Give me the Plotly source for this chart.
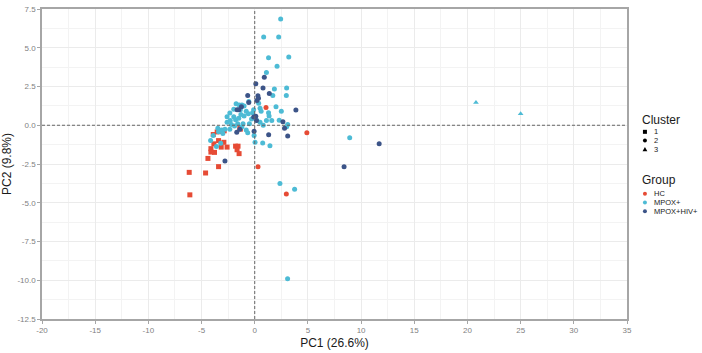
import plotly.graph_objects as go

# ---------------- data ----------------
hc_x = [1.06, -1.4, 4.9, -2.87, -3.9, -3.4, -2.9, -3.84, -3.15, -2.6, -4.12, -4.12, -3.78,
        -1.8, -1.57, -1.66, -1.47, -4.4, -3.4, 0.31, -6.16, -4.62, -6.1, 2.97, -3.2, -1.35, -3.53]
hc_y = [1.15, -0.15, -0.49, -0.36, -0.6, -0.99, -1.1, -1.2, -1.41, -1.41, -1.51, -1.73, -1.75,
        -1.35, -1.35, -1.58, -1.83, -2.14, -2.67, -2.67, -3.04, -3.08, -4.49, -4.43, -0.4, -0.25, -0.43]
hc_cl = [2, 1, 2, 1, 1, 1, 1, 1, 1, 1, 1, 1, 1,
         1, 1, 1, 1, 1, 1, 2, 1, 1, 1, 2, 1, 1, 1]

mp_x = [2.44, 0.84, 2.25, 1.3, 3.2, 2.1, 1.1, 1.85, 3.0, 1.7, 2.97, -0.56, 0.37, 1.3, 1.35, 1.6,
        1.1, 2.3, 3.1, 0.5, 0.6, -1.75, -1.45, -1.2, -1.0, -1.97, -1.35, -2.34, -1.97, -1.8,
        -1.5, -1.0, -0.8, -0.2, -2.6, -2.3, -2.2, -1.9, -1.6, -1.1, -0.5, -0.3, -3.1, -2.8,
        -0.8, 0.5, 0.8, -2.34, -3.47, -3.4, -3.0, -3.9, -4.15, -3.2, -3.6, -0.66, -0.06, 0.03,
        0.75, 1.43, 3.0, 2.37, 3.75, 3.09, 8.93, 2.5, 2.0, -1.3, -2.6, -1.2, 0.2, -0.6, -0.1,
        20.8, 25.0]
mp_y = [6.85, 5.7, 5.7, 4.35, 4.4, 3.8, 3.4, 2.34, 2.4, 1.92, 1.92, 1.53, 1.42, 0.8, 0.6, 0.3,
        0.3, 0.33, 0.05, 1.1, 0.9, 1.38, 1.3, 1.3, 1.25, 1.04, 1.0, 0.79, 0.55, 0.35,
        0.45, 0.6, 0.9, 0.8, 0.2, 0.3, 0.05, -0.05, 0.1, 0.1, 0.1, 0.4, -0.3, -0.25,
        -0.3, 0.2, 0.0, -0.26, -0.19, -0.42, -0.53, -0.66, -0.99, -1.16, -1.37, -0.49, -0.66, -1.1,
        -1.14, -1.32, -0.1, -3.76, -4.13, -9.9, -0.8, 0.9, 1.2, 0.7, 0.55, -0.1, 0.3, 0.75, 1.0,
        1.46, 0.75]
mp_cl = [2] * 73 + [3, 3]

hiv_x = [0.9, 0.1, 0.78, 1.37, -0.66, 0.3, 0.35, 0.2, -1.25, -1.5, -0.56, -1.66, 0.1, -0.1,
         3.87, 2.65, 2.8, 1.31, 3.1, -0.06, -1.69, -2.8, 11.7, 8.4, -1.4, 0.16]
hiv_y = [3.1, 2.67, 2.4, 2.05, 1.92, 1.9, 1.75, 1.6, 1.2, 1.0, 1.46, 1.0, 0.58, 0.54,
         0.98, 0.22, -0.2, -0.61, -0.7, -0.38, -0.45, -2.31, -1.2, -2.67, -0.25, 0.3]
hiv_cl = [2] * 26

groups = ["HC", "MPOX+", "MPOX+HIV+"]
clusters = ["1", "2", "3"]
x_ticks = [-20, -15, -10, -5, 0, 5, 10, 15, 20, 25, 30, 35]
x_ticktext = ["-20", "-15", "-10", "-5", "0", "5", "10", "15", "20", "25", "30", "35"]
y_ticks = [-12.5, -10.0, -7.5, -5.0, -2.5, 0.0, 2.5, 5.0, 7.5]
y_ticktext = ["-12.5", "-10.0", "-7.5", "-5.0", "-2.5", "0.0", "2.5", "5.0", "7.5"]

colors = {"HC": "#E64B35", "MPOX+": "#4DBBD5", "MPOX+HIV+": "#3C5488"}
symbols = {1: "square", 2: "circle", 3: "triangle-up"}

FONT = "Liberation Sans, Arial, sans-serif"

fig = go.Figure()

data = {"HC": (hc_x, hc_y, hc_cl), "MPOX+": (mp_x, mp_y, mp_cl), "MPOX+HIV+": (hiv_x, hiv_y, hiv_cl)}
for g in groups:
    xs, ys, cs = data[g]
    for c in (1, 2, 3):
        px = [x for x, k in zip(xs, cs) if k == c]
        py = [y for y, k in zip(ys, cs) if k == c]
        if not px:
            continue
        fig.add_trace(go.Scatter(
            x=px, y=py, mode="markers", showlegend=False, name=f"{g} / cluster {c}",
            marker=dict(color=colors[g], symbol=symbols[c], size=5, line=dict(width=0))))

# reference lines at 0
fig.add_shape(type="line", xref="x", yref="paper", x0=0, x1=0, y0=0, y1=1,
              line=dict(color="#666666", width=1, dash="3px,2px"))
fig.add_shape(type="line", xref="paper", yref="y", x0=0, x1=1, y0=0, y1=0,
              line=dict(color="#666666", width=1, dash="3px,2px"))

# ---------------- legend (ggplot-style, compact) ----------------
L, T, W, H = 40, 5, 587, 318          # plot area in px


def px_x(p):
    return (p - L) / W


def px_y(p):
    return (T + H - p) / H


key_x = px_x(645)
text_x = px_x(653)
title_x = px_x(640)


def legend_title(text, py):
    fig.add_annotation(x=title_x, y=px_y(py), xref="paper", yref="paper", text=text,
                       showarrow=False, xanchor="left", yanchor="middle",
                       font=dict(family=FONT, size=12, color="#1a1a1a"))


def legend_label(text, py):
    fig.add_annotation(x=text_x, y=px_y(py), xref="paper", yref="paper", text=text,
                       showarrow=False, xanchor="left", yanchor="middle",
                       borderpad=0,
                       font=dict(family=FONT, size=7.5, color="#1a1a1a"))


def legend_key(kind, color, py):
    common = dict(xref="paper", yref="paper", xsizemode="pixel", ysizemode="pixel",
                  xanchor=key_x, yanchor=px_y(py), fillcolor=color, line=dict(width=0))
    if kind == "square":
        fig.add_shape(type="rect", x0=-2, x1=2, y0=-2, y1=2, **common)
    elif kind == "circle":
        fig.add_shape(type="circle", x0=-2, x1=2, y0=-2, y1=2, **common)
    else:
        fig.add_shape(type="path", path="M-2.4,-1.8 L2.4,-1.8 L0,2.4 Z", **common)


legend_title("Cluster", 119)
for i, c in enumerate(clusters):
    yy = 131 + 9 * i
    legend_key(symbols[i + 1], "black", yy)
    legend_label(c, yy)

legend_title("Group", 180)
for i, g in enumerate(groups):
    yy = 194.5 + 9 * i
    legend_key("circle", colors[g], yy)
    legend_label(g, yy)

axis_common = dict(
    showline=True, mirror=True, linecolor="#a6a6a6", linewidth=1.5,
    ticks="outside", ticklen=3, tickcolor="#a6a6a6", tickwidth=1,
    showgrid=True, gridcolor="#ebebeb", gridwidth=1, zeroline=False,
    tickfont=dict(family=FONT, size=8, color="#7f7f7f"),
)

fig.update_layout(
    width=702, height=353,
    margin=dict(l=40, r=75, t=5, b=30),
    plot_bgcolor="white", paper_bgcolor="white",
    showlegend=False,
    xaxis=dict(range=[-20, 35], tickvals=x_ticks, ticktext=x_ticktext,
               minor=dict(dtick=2.5, tick0=0, showgrid=True, gridcolor="#f3f3f3", gridwidth=1, ticks=""),
               title=dict(text="PC1 (26.6%)", standoff=4,
                          font=dict(family=FONT, size=12, color="#1a1a1a")),
               **axis_common),
    yaxis=dict(range=[-12.5, 7.5], tickvals=y_ticks, ticktext=y_ticktext,
               minor=dict(dtick=1.25, tick0=0, showgrid=True, gridcolor="#f3f3f3", gridwidth=1, ticks=""),
               title=dict(text="PC2 (9.8%)", standoff=4,
                          font=dict(family=FONT, size=12, color="#1a1a1a")),
               **axis_common),
)

fig.write_html("out.html")
